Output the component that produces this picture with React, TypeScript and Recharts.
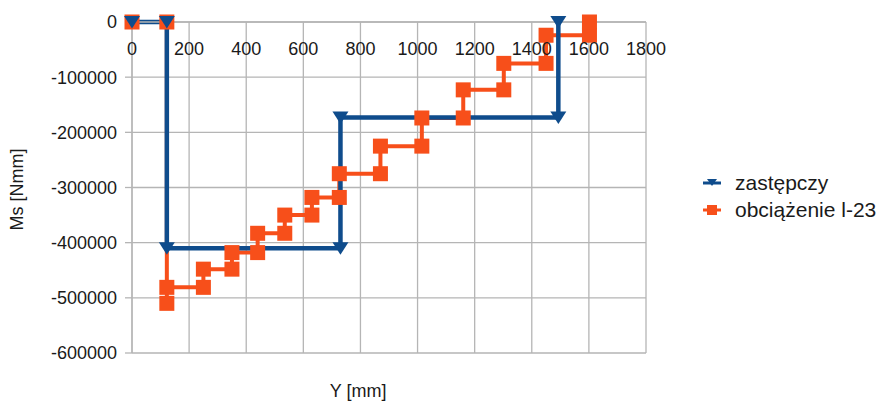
import { LineChart, Line, XAxis, YAxis, CartesianGrid, Legend } from "recharts"

const xTicks = [0, 200, 400, 600, 800, 1000, 1200, 1400, 1600, 1800]
const yTicks = [0, -100000, -200000, -300000, -400000, -500000, -600000]

// zastępczy (replacement load)
const zastepczyX = [0, 122, 122, 730, 730, 1493, 1493]
const zastepczyY = [0, 0, -410000, -410000, -173000, -173000, 0]

// obciążenie l-23
const obciazenieX = [0, 122, 122, 122, 250, 250, 350, 350, 440, 440, 535, 535, 630, 630, 726, 726, 870, 870, 1015, 1015, 1160, 1160, 1302, 1302, 1450, 1450, 1602, 1602]
const obciazenieY = [0, 0, -510000, -481000, -481000, -448000, -448000, -418000, -418000, -383000, -383000, -350000, -350000, -318000, -318000, -275000, -275000, -225000, -225000, -174000, -174000, -123000, -123000, -75000, -75000, -24000, -24000, 0]

const zastepczy = zastepczyX.map((x, i) => ({ x, y: zastepczyY[i] }))
const obciazenie = obciazenieX.map((x, i) => ({ x, y: obciazenieY[i] }))

const BLUE = "#0f4c8c"
const ORANGE = "#f74f1a"
const GRID = "#b5b5b5"
const TEXT = "#1a1a1a"
const FONT = '"Liberation Sans", Arial, sans-serif'

const triangleDot = (props: any) => {
  const { cx, cy, index } = props
  return (
    <path
      key={`t-${index}`}
      d={`M${cx - 8},${cy - 6}L${cx + 8},${cy - 6}L${cx},${cy + 6.5}Z`}
      fill={BLUE}
    />
  )
}

const squareDot = (props: any) => {
  const { cx, cy, index } = props
  return <rect key={`s-${index}`} x={cx - 7.5} y={cy - 7.5} width={15} height={15} fill={ORANGE} />
}

// x tick labels sit below the axis line at the top of the plot
const xTick = (props: any) => {
  const { x, y, payload } = props
  return (
    <text x={x} y={y + 33} textAnchor="middle" fontFamily={FONT} fontSize={18} fill={TEXT}>
      {payload.value}
    </text>
  )
}

const legendItems = [
  { name: "zastępczy", color: BLUE, shape: "triangle" },
  { name: "obciążenie l-23", color: ORANGE, shape: "square" },
]

const renderLegend = () => (
  <div style={{ fontFamily: FONT, fontSize: 21, color: TEXT, lineHeight: "27px" }}>
    {legendItems.map((item) => (
      <div key={item.name} style={{ display: "flex", alignItems: "center", whiteSpace: "nowrap" }}>
        <svg width={18} height={12} style={{ marginRight: 14 }}>
          <line x1={0} y1={6} x2={18} y2={6} stroke={item.color} strokeWidth={3} />
          {item.shape === "triangle" ? (
            <path d="M4,2L14,2L9,9Z" fill={item.color} />
          ) : (
            <rect x={4} y={1} width={10} height={10} fill={item.color} />
          )}
        </svg>
        <span>{item.name}</span>
      </div>
    ))}
  </div>
)

const yTitle = (props: any) => {
  const { viewBox } = props
  const cx = 17
  const cy = viewBox.y + viewBox.height / 2 + 2
  return (
    <text
      x={cx}
      y={cy}
      transform={`rotate(-90 ${cx} ${cy})`}
      textAnchor="middle"
      dominantBaseline="central"
      fontFamily={FONT}
      fontSize={18}
      fill={TEXT}
    >
      Ms [Nmm]
    </text>
  )
}

const xTitle = (props: any) => {
  const { viewBox } = props
  return (
    <text
      x={viewBox.x + viewBox.width * 0.44}
      y={397}
      textAnchor="middle"
      fontFamily={FONT}
      fontSize={18}
      fill={TEXT}
    >
      Y [mm]
    </text>
  )
}

export default function App() {
  return (
    <div style={{ position: "absolute", left: 0, top: 0, background: "#fff" }}>
      <LineChart width={888} height={401} margin={{ top: 0, right: 242, left: 0, bottom: 0 }}>
        <CartesianGrid
          xAxisId="top"
          stroke={GRID}
          strokeWidth={1.3}
          horizontalValues={yTicks}
          verticalValues={xTicks}
        />
        <XAxis
          xAxisId="top"
          type="number"
          dataKey="x"
          orientation="top"
          height={22}
          domain={[0, 1800]}
          ticks={xTicks}
          interval={0}
          tickLine={false}
          tickSize={0}
          tickMargin={0}
          axisLine={{ stroke: GRID, strokeWidth: 1.3 }}
          tick={xTick}
        />
        <XAxis
          xAxisId="bottom"
          type="number"
          dataKey="x"
          orientation="bottom"
          height={48}
          domain={[0, 1800]}
          tick={false}
          tickLine={false}
          axisLine={false}
          label={{ content: xTitle }}
        />
        <YAxis
          type="number"
          dataKey="y"
          width={132}
          domain={[-600000, 0]}
          ticks={yTicks}
          interval={0}
          tickSize={7}
          tickMargin={8}
          tickLine={{ stroke: GRID, strokeWidth: 1.3 }}
          axisLine={{ stroke: GRID, strokeWidth: 1.3 }}
          tick={{ fill: TEXT, fontSize: 18, fontFamily: FONT }}
          label={{ content: yTitle }}
        />
        <Legend
          layout="vertical"
          align="center"
          verticalAlign="middle"
          content={renderLegend}
          wrapperStyle={{ left: 703, top: 169, width: "auto" }}
        />
        <Line
          xAxisId="top"
          data={obciazenie}
          dataKey="y"
          name="obciążenie l-23"
          type="linear"
          stroke={ORANGE}
          strokeWidth={4}
          dot={squareDot}
          activeDot={false}
          isAnimationActive={false}
        />
        <Line
          xAxisId="top"
          data={zastepczy}
          dataKey="y"
          name="zastępczy"
          type="linear"
          stroke={BLUE}
          strokeWidth={4.5}
          dot={triangleDot}
          activeDot={false}
          isAnimationActive={false}
        />
      </LineChart>
    </div>
  )
}
